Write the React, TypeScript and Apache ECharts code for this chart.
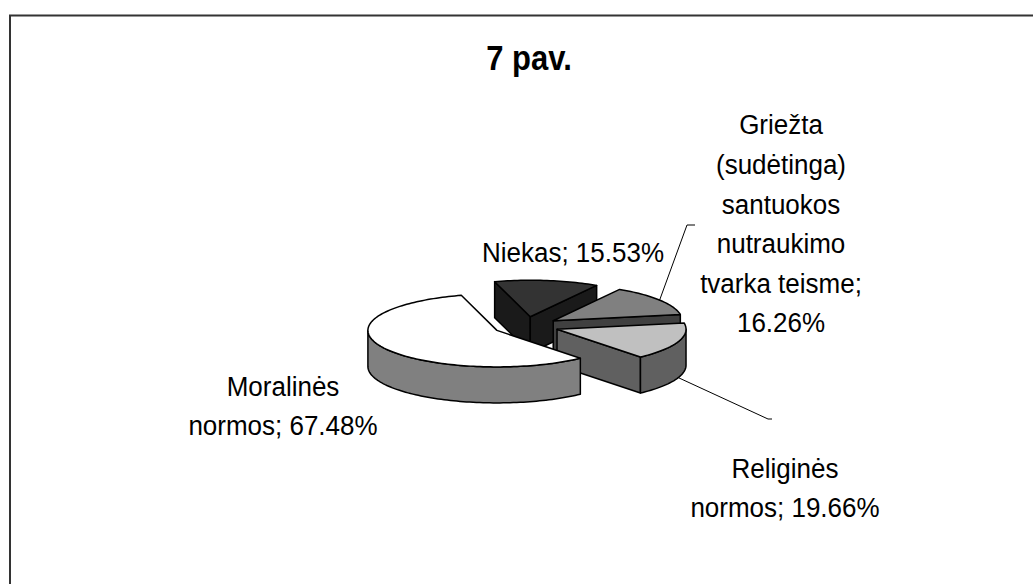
import React, { useEffect, useRef } from 'react';
import * as echarts from 'echarts';

// ---- data ----
const categories = [
  'Moralinės\nnormos',
  'Niekas',
  'Griežta\n(sudėtinga)\nsantuokos\nnutraukimo\ntvarka teisme',
  'Religinės\nnormos',
];
const values = [67.48, 15.53, 16.26, 19.66];
const labelSeparators = ['; ', '; ', ';\n', '; '];
const titleText = '7 pav.';

// ---- styling / layout ----
const topColors = ['#ffffff', '#333333', '#808080', '#c0c0c0'];
const PIE = { cx: 526, cy: 326, rx: 129, ry: 36.5, h: 36, explode: 33, startAngle: 139.7 };
const labelPos: number[][] = [[283, 406], [573, 253], [781, 224], [785, 488]];
const leaderEnds: (number[][] | null)[] = [null, null, [[687, 225], [695, 225]], [[768, 419], [772, 419]]];
const leaderFromBottom = [false, false, false, true];
const FONT = '"Liberation Sans", Arial, Helvetica, sans-serif';

function darken(hex: string, f: number) {
  const n = parseInt(hex.slice(1), 16);
  const r = Math.round(((n >> 16) & 255) * f);
  const g = Math.round(((n >> 8) & 255) * f);
  const b = Math.round((n & 255) * f);
  return `rgb(${r},${g},${b})`;
}

const rad = (d: number) => (d * Math.PI) / 180;

function renderItem(params: any, api: any) {
  const i = params.dataIndex;
  const total = values.reduce((a, b) => a + b, 0);
  let acc = PIE.startAngle;
  const starts: number[] = [];
  for (let k = 0; k < values.length; k++) {
    starts.push(acc);
    acc += (values[k] / total) * 360;
  }
  const v = api.value(0);
  const a0 = starts[i];
  const a1 = a0 + (v / total) * 360;
  const offsOf = (k: number) => {
    const m = starts[k] + (values[k] / total) * 180;
    return [Math.sin(rad(m)) * PIE.explode, (-Math.cos(rad(m)) * PIE.explode * PIE.ry) / PIE.rx];
  };
  const [ox, oy] = offsOf(i);
  // rank by depth
  const depths = values.map((_, k) => offsOf(k)[1]);
  const rank = depths.filter((d) => d < oy).length;

  const pt = (a: number, bottom: boolean) => [
    PIE.cx + ox + Math.sin(rad(a)) * PIE.rx,
    PIE.cy + oy - Math.cos(rad(a)) * PIE.ry + (bottom ? PIE.h : 0),
  ];
  const apex = (bottom: boolean) => [PIE.cx + ox, PIE.cy + oy + (bottom ? PIE.h : 0)];
  const arc = (b0: number, b1: number, bottom: boolean) => {
    const n = Math.max(2, Math.ceil(Math.abs(b1 - b0) / 1.5));
    const out: number[][] = [];
    for (let s = 0; s <= n; s++) out.push(pt(b0 + ((b1 - b0) * s) / n, bottom));
    return out;
  };

  const top = topColors[i];
  const side = darken(top, 0.5);
  const stroke = { stroke: '#000', lineWidth: 1.5, lineJoin: 'round' };
  const children: any[] = [];

  // radial cut faces
  const cutFace = (a: number) => ({
    type: 'polygon',
    shape: { points: [apex(false), pt(a, false), pt(a, true), apex(true)] },
    style: { fill: side, ...stroke },
    z2: rank * 10 + 1,
  });
  if (Math.sin(rad(a0)) < 0) children.push(cutFace(a0));
  if (Math.sin(rad(a1)) > 0) children.push(cutFace(a1));

  // outer wall (front-facing portion)
  for (let base = -360; base <= 360; base += 360) {
    const lo = Math.max(a0, 90 + base);
    const hi = Math.min(a1, 270 + base);
    if (hi > lo) {
      const pts = arc(lo, hi, false).concat(arc(hi, lo, true));
      children.push({
        type: 'polygon',
        shape: { points: pts },
        style: { fill: side, ...stroke },
        z2: rank * 10 + 2,
      });
    }
  }

  // top face
  children.push({
    type: 'polygon',
    shape: { points: [apex(false)].concat(arc(a0, a1, false)) },
    style: { fill: top, ...stroke },
    z2: rank * 10 + 5,
  });

  // leader line
  const le = leaderEnds[i];
  if (le) {
    const mid = (a0 + a1) / 2;
    children.push({
      type: 'polyline',
      shape: { points: [pt(mid, leaderFromBottom[i])].concat(le) },
      style: { stroke: '#000', lineWidth: 1, fill: 'none' },
      z2: 100,
    });
  }

  // label
  children.push({
    type: 'text',
    x: labelPos[i][0],
    y: labelPos[i][1],
    scaleY: 1.07,
    style: {
      text: categories[i] + labelSeparators[i] + v.toFixed(2) + '%',
      fill: '#000',
      fontSize: 26,
      fontFamily: FONT,
      lineHeight: 37,
      textAlign: 'center',
      textVerticalAlign: 'middle',
    },
    z2: 110,
  });

  return { type: 'group', children };
}

export default function App() {
  const ref = useRef<HTMLDivElement>(null);
  useEffect(() => {
    if (!ref.current) return;
    const chart = echarts.init(ref.current, undefined, { renderer: 'svg' });
    chart.setOption({
      animation: false,
      backgroundColor: '#ffffff',
      graphic: [
        {
          type: 'rect',
          shape: { x: 10, y: 15.5, width: 1200, height: 800 },
          style: { fill: 'none', stroke: '#333', lineWidth: 2 },
          silent: true,
        },
        {
          type: 'text',
          x: 529,
          y: 58,
          scaleY: 1.12,
          style: {
            text: titleText,
            fill: '#000',
            fontSize: 31,
            fontWeight: 'bold',
            fontFamily: FONT,
            textAlign: 'center',
            textVerticalAlign: 'middle',
          },
        },
      ],
      series: [
        {
          type: 'custom',
          coordinateSystem: 'none',
          renderItem,
          data: values.map((v, k) => ({ value: [v], name: categories[k] })),
        },
      ],
    });
    return () => chart.dispose();
  }, []);
  return (
    <div
      ref={ref}
      style={{ position: 'fixed', left: 0, top: 0, width: 1033, height: 584, background: '#fff' }}
    />
  );
}
